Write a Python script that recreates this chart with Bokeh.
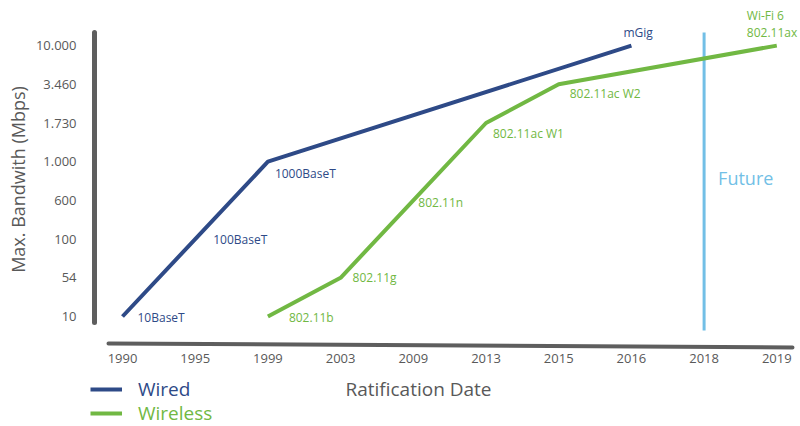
from bokeh.plotting import figure
from bokeh.models import (ColumnDataSource, FixedTicker, Label, Legend, LegendItem, LinearAxis)
from bokeh.core.properties import value
from bokeh.embed import file_html
from bokeh.resources import INLINE
import math

# ---------------- data ----------------
years = ["1990", "1995", "1999", "2003", "2009", "2013", "2015", "2016", "2018", "2019"]
levels = [10, 54, 100, 600, 1000, 1730, 3460, 10000]
level_labels = ["10", "54", "100", "600", "1.000", "1.730", "3.460", "10.000"]

wired_years = ["1990", "1995", "1999", "2016"]
wired_vals = [10, 100, 1000, 10000]
wired_names = ["10BaseT", "100BaseT", "1000BaseT", "mGig"]

wireless_years = ["1999", "2003", "2009", "2013", "2015", "2019"]
wireless_vals = [10, 54, 600, 1730, 3460, 10000]
wireless_names = ["802.11b", "802.11g", "802.11n", "802.11ac W1", "802.11ac W2", "Wi-Fi 6\n802.11ax"]

future_year = "2018"

# ---------------- styles / label offsets (px) ----------------
WIRED = "#2E4A87"
WIRELESS = "#71B843"
FUTURE = "#72BFE6"
AXIS = "#5E5E5E"
TEXT = "#595959"
FONT = "Open Sans"

wired_dx = [15, 18, 7, -8]
wired_dy = [1, 0, 12, -13]
wireless_dx = [21, 12, 5, 7, 11, -30]
wireless_dy = [1, 0, 2, 10, 9, -22]

# screen geometry (canvas pixels)
W, H = 800, 426
X0, DX = 122.0, 72.7                     # x of first category, spacing
Y0, DY = 316.0, 38.7                     # y of first level, spacing


def px_x(px):
    return (px - X0) / DX


def px_y(py):
    return (Y0 - py) / DY


xi = {y: i for i, y in enumerate(years)}
yi = {v: j for j, v in enumerate(levels)}

p = figure(width=W, height=H, output_backend="svg", toolbar_location=None,
           x_range=(px_x(0), px_x(W)), y_range=(px_y(H), px_y(0)),
           min_border=0, x_axis_location=None, y_axis_location=None)
p.outline_line_color = None
p.background_fill_color = "white"
p.border_fill_color = "white"
p.xgrid.visible = False
p.ygrid.visible = False

xaxis = LinearAxis(fixed_location=px_y(350))
yaxis = LinearAxis(fixed_location=px_x(90))
p.add_layout(xaxis, "below")
p.add_layout(yaxis, "left")

xaxis.ticker = FixedTicker(ticks=list(range(len(years))))
xaxis.major_label_overrides = {i: y for i, y in enumerate(years)}
yaxis.ticker = FixedTicker(ticks=list(range(len(levels))))
yaxis.major_label_overrides = {j: l for j, l in enumerate(level_labels)}
for ax in (xaxis, yaxis):
    ax.axis_line_color = None
    ax.major_tick_line_color = None
    ax.minor_tick_line_color = None
    ax.major_tick_out = 0
    ax.major_tick_in = 0
    ax.minor_tick_out = 0
    ax.major_label_text_font = FONT
    ax.major_label_text_font_size = "13px"
    ax.major_label_text_color = TEXT
xaxis.major_label_standoff = 3
yaxis.major_label_standoff = 14

# axis lines
p.segment(x0=[px_x(94)], y0=[px_y(32)], x1=[px_x(94)], y1=[px_y(322)],
          line_color=AXIS, line_width=5, line_cap="round")
p.segment(x0=[px_x(108)], y0=[px_y(343)], x1=[px_x(792)], y1=[px_y(347)],
          line_color=AXIS, line_width=4, line_cap="round")

# future marker
fx = xi[future_year]
p.segment(x0=[fx], y0=[px_y(32)], x1=[fx], y1=[px_y(330)], line_color=FUTURE, line_width=3)
p.add_layout(Label(x=fx, y=px_y(177), x_offset=14, text="Future", text_font=FONT,
                   text_font_size="18px", text_color=FUTURE, text_baseline="middle"))

# series
wsrc = ColumnDataSource(dict(x=[xi[y] for y in wired_years], y=[yi[v] for v in wired_vals],
                             name=wired_names, dx=wired_dx, dy=wired_dy))
lsrc = ColumnDataSource(dict(x=[xi[y] for y in wireless_years], y=[yi[v] for v in wireless_vals],
                             name=wireless_names, dx=wireless_dx, dy=wireless_dy))

r_wired = p.line("x", "y", source=wsrc, line_color=WIRED, line_width=4)
r_wireless = p.line("x", "y", source=lsrc, line_color=WIRELESS, line_width=4)

p.text("x", "y", text="name", source=wsrc, x_offset="dx", y_offset="dy",
       text_font=value(FONT), text_font_size="12px", text_color=WIRED,
       text_baseline="middle", text_align="left")
p.text("x", "y", text="name", source=lsrc, x_offset="dx", y_offset="dy",
       text_font=value(FONT), text_font_size="12px", text_color=WIRELESS,
       text_baseline="middle", text_align="left", text_line_height=1.0)

# axis titles
p.add_layout(Label(x=px_x(418), y=px_y(388), text="Ratification Date", text_font=FONT,
                   text_font_size="19px", text_color=TEXT, text_align="center",
                   text_baseline="middle"))
p.add_layout(Label(x=px_x(17), y=px_y(179), text="Max. Bandwith (Mbps)", text_font=FONT,
                   text_font_size="18px", text_color=TEXT, text_align="center",
                   text_baseline="middle", angle=math.pi / 2))

# legends (one per item so each label keeps its colour)
for r, name, color, cy in ((r_wired, "Wired", WIRED, 392), (r_wireless, "Wireless", WIRELESS, 416)):
    lg = Legend(items=[LegendItem(label=name, renderers=[r])],
                location=(90, H - (cy + 10)), orientation="vertical",
                glyph_width=32, glyph_height=20, label_height=20, label_standoff=16,
                label_text_font=FONT, label_text_font_size="19px", label_text_color=color,
                label_text_baseline="middle",
                padding=0, margin=0, spacing=0, border_line_color=None,
                background_fill_alpha=0)
    p.add_layout(lg, "center")

open("out.html", "w").write(file_html(p, INLINE))
